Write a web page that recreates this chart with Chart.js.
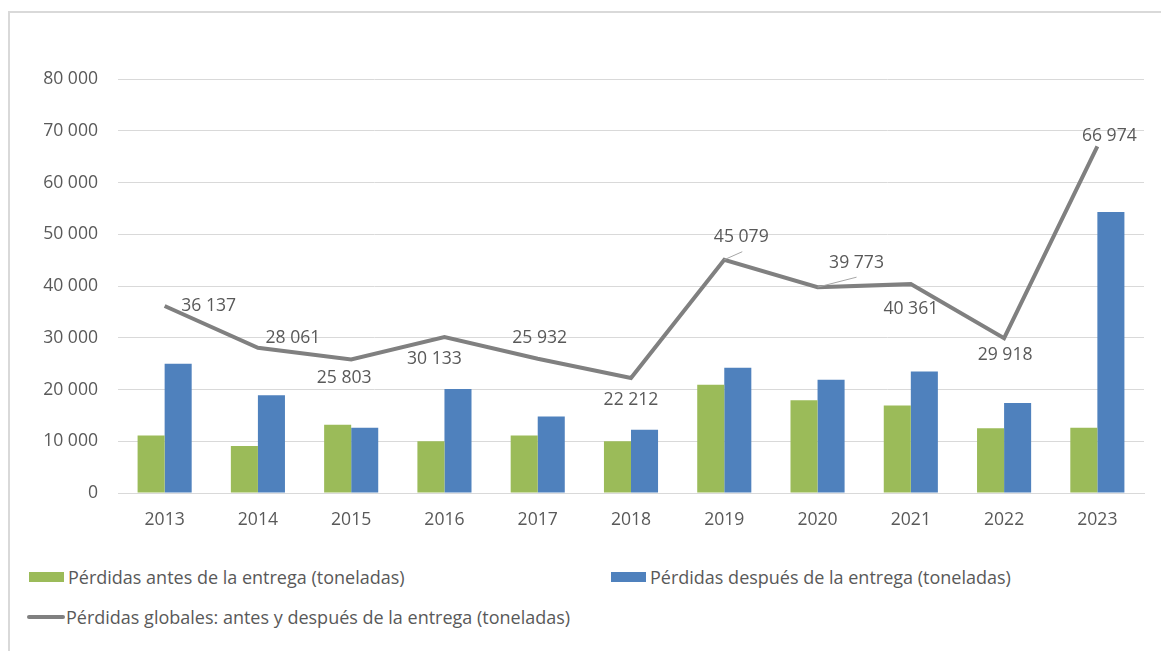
<!DOCTYPE html>
<html>
<head>
<meta charset="utf-8">
<script src="https://cdn.jsdelivr.net/npm/chart.js@4.4.1/dist/chart.umd.min.js"></script>
<style>
  html, body { margin: 0; padding: 0; background: #fff; }
  body { width: 1161px; height: 651px; position: relative; overflow: hidden; font-family: "Open Sans", sans-serif; color: #595959; }
  #frame { position: absolute; left: 8px; top: 11px; width: 1200px; height: 700px; border-left: 2px solid #d9d9d9; border-top: 2px solid #d9d9d9; }
  #wrap { position: absolute; left: 0; top: 0; width: 1161px; height: 560px; }
  .leg { position: absolute; font-size: 18px; line-height: 22px; white-space: nowrap; }
  .sw { position: absolute; }
</style>
</head>
<body>
<div id="frame"></div>
<div id="wrap"><canvas id="chart"></canvas></div>
<div id="legend"></div>
<script>
// Data.
const years = ['2013', '2014', '2015', '2016', '2017', '2018', '2019', '2020', '2021', '2022', '2023'];
const beforeDelivery = [11100, 9100, 13200, 10000, 11100, 10000, 20900, 17900, 16900, 12500, 12600];
const afterDelivery = [25000, 18900, 12600, 20100, 14800, 12200, 24200, 21900, 23500, 17400, 54300];
const totalLosses = [36137, 28061, 25803, 30133, 25932, 22212, 45079, 39773, 40361, 29918, 66974];
const yTicks = [0, 10000, 20000, 30000, 40000, 50000, 60000, 70000, 80000];

// Label placement relative to each line point (px), plus optional leader line end.
const labelOffsets = [
  {dx: 44, dy: 0}, {dx: 35, dy: -10}, {dx: -7, dy: 19}, {dx: -10, dy: 22},
  {dx: 2, dy: -21}, {dx: 0, dy: 22}, {dx: 17, dy: -23, lx: 18, ly: -8},
  {dx: 39, dy: -24, lx: 39, ly: -10}, {dx: 0, dy: 25}, {dx: 1, dy: 17}, {dx: 12, dy: -10},
];

const green = '#9bbb59';
const blue = '#4f81bd';
const grey = '#808080';
const textColor = '#595959';
const fontFamily = '"Open Sans", sans-serif';
const fontSize = 17.6;

const fmt = (v) => String(v).replace(/\B(?=(\d{3})+(?!\d))/g, ' ');

const lineLabels = {
  id: 'lineLabels',
  afterDatasetsDraw(chart) {
    const ctx = chart.ctx;
    const meta = chart.getDatasetMeta(2);
    ctx.save();
    meta.data.forEach((pt, i) => {
      const o = labelOffsets[i];
      if (o.lx !== undefined) {
        ctx.strokeStyle = '#a6a6a6';
        ctx.lineWidth = 1;
        ctx.beginPath();
        ctx.moveTo(pt.x, pt.y);
        ctx.lineTo(pt.x + o.lx, pt.y + o.ly);
        ctx.stroke();
      }
      ctx.fillStyle = textColor;
      ctx.font = fontSize + 'px ' + fontFamily;
      ctx.textAlign = 'center';
      ctx.textBaseline = 'middle';
      ctx.fillText(fmt(totalLosses[i]), pt.x + o.dx, pt.y + o.dy);
    });
    ctx.restore();
  },
};

const ctx = document.getElementById('chart').getContext('2d');
new Chart(ctx, {
  data: {
    labels: years,
    datasets: [
      {
        type: 'bar',
        label: 'Pérdidas antes de la entrega (toneladas)',
        data: beforeDelivery,
        backgroundColor: green,
        order: 2,
        categoryPercentage: 0.58,
        barPercentage: 1,
      },
      {
        type: 'bar',
        label: 'Pérdidas después de la entrega (toneladas)',
        data: afterDelivery,
        backgroundColor: blue,
        order: 2,
        categoryPercentage: 0.58,
        barPercentage: 1,
      },
      {
        type: 'line',
        label: 'Pérdidas globales: antes y después de la entrega (toneladas)',
        data: totalLosses,
        borderColor: grey,
        borderWidth: 4,
        pointRadius: 0,
        tension: 0,
        fill: false,
        order: 1,
      },
    ],
  },
  options: {
    responsive: true,
    maintainAspectRatio: false,
    animation: false,
    layout: {padding: {left: 0, top: 79, right: 17, bottom: 0}},
    plugins: {
      legend: {display: false},
      tooltip: {enabled: false},
    },
    scales: {
      x: {
        grid: {display: false, drawTicks: false},
        border: {display: true, color: '#d9d9d9', width: 1},
        ticks: {color: textColor, font: {family: fontFamily, size: fontSize}, padding: 16},
        afterFit(scale) { scale.height = 67; },
      },
      y: {
        min: 0,
        max: 80000,
        afterBuildTicks(scale) { scale.ticks = yTicks.map(v => ({value: v})); },
        grid: {color: '#d9d9d9', lineWidth: 1, drawTicks: false},
        border: {display: false},
        ticks: {color: textColor, font: {family: fontFamily, size: fontSize}, padding: 20, callback: (v) => fmt(v)},
        afterFit(scale) { scale.width = 118; },
      },
    },
  },
  plugins: [lineLabels],
});

// Legend laid out like the original two-column block.
const legendItems = [
  {kind: 'box', color: green, left: 29, top: 577, text: 'Pérdidas antes de la entrega (toneladas)'},
  {kind: 'box', color: blue, left: 611, top: 577, text: 'Pérdidas después de la entrega (toneladas)'},
  {kind: 'line', color: grey, left: 27, top: 617, text: 'Pérdidas globales: antes y después de la entrega (toneladas)'},
];
const legend = document.getElementById('legend');
legendItems.forEach(item => {
  const sw = document.createElement('div');
  sw.className = 'sw';
  if (item.kind === 'box') {
    Object.assign(sw.style, {left: item.left + 'px', top: (item.top - 5) + 'px', width: '35px', height: '10px', background: item.color});
  } else {
    Object.assign(sw.style, {left: item.left + 'px', top: (item.top - 2) + 'px', width: '38px', height: '4px', background: item.color, borderRadius: '2px'});
  }
  legend.appendChild(sw);
  const t = document.createElement('div');
  t.className = 'leg';
  t.textContent = item.text;
  Object.assign(t.style, {left: (item.left + 39) + 'px', top: (item.top - 11) + 'px'});
  legend.appendChild(t);
});
</script>
</body>
</html>
